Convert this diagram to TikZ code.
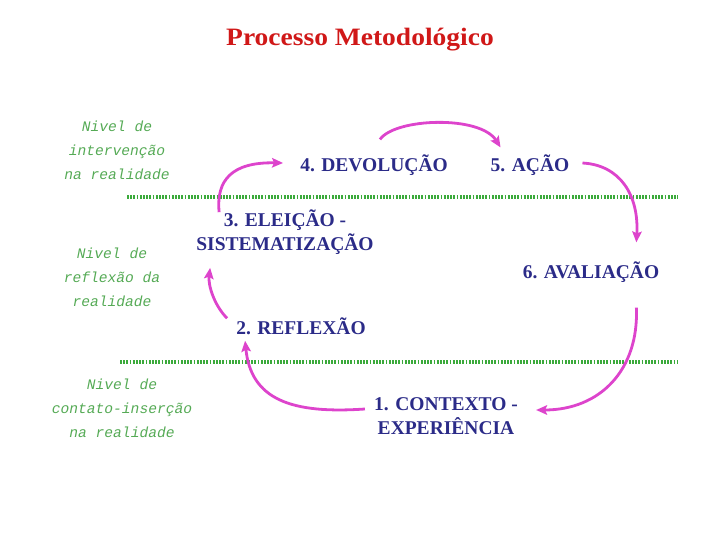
\documentclass[tikz,border=0pt]{standalone}
\usepackage{fontspec}
\setmainfont{Liberation Serif}
\newfontfamily\greenfont{Liberation Mono}
\newfontfamily\titlefont[FakeStretch=1.1]{Liberation Serif}
\usetikzlibrary{arrows.meta}
\definecolor{titlered}{HTML}{D01818}
\definecolor{navy}{HTML}{2B2B88}
\definecolor{lvgreen}{HTML}{55AA55}
\definecolor{dotgreen}{HTML}{3BAA3B}
\definecolor{arrowpink}{HTML}{DD44CC}
\begin{document}
\begin{tikzpicture}[x=1pt,y=-1pt,
  stitle/.style={font=\titlefont\fontsize{25}{30}\selectfont\bfseries, text=titlered, inner sep=0pt},
  lvtext/.style={font=\greenfont\itshape\fontsize{14.6}{24}\selectfont, text=lvgreen, align=center, inner sep=0pt},
  stagetext/.style={font=\fontsize{19.5}{24.5}\selectfont\bfseries, text=navy, align=center, inner sep=0pt},
  divider/.style={draw=dotgreen, line width=3.2pt, dash pattern=on 1.8pt off 1.4pt},
  flowarrow/.style={draw=arrowpink, line width=2.8pt, -{Stealth[length=11pt,width=9.5pt,inset=2pt]}},
]
\useasboundingbox (0,0) rectangle (720,540);

\node[stitle] (title) at (360,40) {Processo Metodológico};

\node[lvtext] (lv1) at (117,150) {Nivel de\\intervenção\\na realidade};
\node[lvtext] (lv2) at (112,277) {Nivel de\\reflexão da\\realidade};
\node[lvtext] (lv3) at (122,408) {Nivel de\\contato-inserção\\na realidade};

\coordinate (d1a) at (127,197);
\coordinate (d1b) at (678,197);
\coordinate (d2a) at (120,362);
\coordinate (d2b) at (678,362);
\draw[divider] (d1a) -- (d1b);
\draw[divider] (d2a) -- (d2b);

\node[stagetext] (n4) at (374,165) {4. DEVOLUÇÃO};
\node[stagetext] (n5) at (530,165) {5. AÇÃO};
\node[stagetext] (n3) at (285,232) {3. ELEIÇÃO -\\SISTEMATIZAÇÃO};
\node[stagetext] (n6) at (591,272) {6. AVALIAÇÃO};
\node[stagetext] (n2) at (301,326) {2. REFLEXÃO};
\node[stagetext] (n1) at (446,416) {1. CONTEXTO -\\EXPERIÊNCIA};

% 1 -> 2
\draw[flowarrow] ([shift={(-9,-7)}]n1.west) .. controls (292,414) and (251,400) .. ([shift={(9,6)}]n2.south west);
% 2 -> 3
\draw[flowarrow] ([shift={(-9,1)}]n2.north west) .. controls (214,305) and (208,285) .. ([shift={(14,13)}]n3.south west);
% 3 -> 4
\draw[flowarrow] ([shift={(23,3)}]n3.north west) .. controls (216,180) and (232,162) .. ([shift={(-17,-2)}]n4.west);
% 4 -> 5
\draw[flowarrow] ([shift={(6,-15)}]n4.north) .. controls (395,118) and (480,115) .. ([shift={(10,-7)}]n5.north west);
% 5 -> 6
\draw[flowarrow] ([shift={(13,-2)}]n5.east) .. controls (620,165) and (639,195) .. ([shift={(-23,-19)}]n6.north east);
% 6 -> 1
\draw[flowarrow] ([shift={(-23,25)}]n6.south east) .. controls (639,370) and (600,410) .. ([shift={(18,-6)}]n1.east);
\end{tikzpicture}
\end{document}
